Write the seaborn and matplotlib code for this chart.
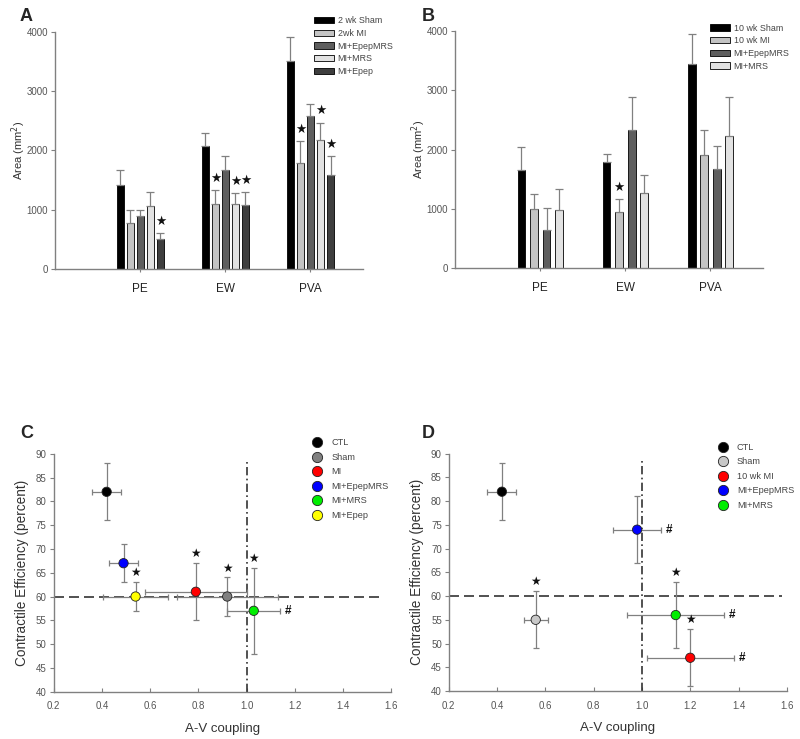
import numpy as np
import pandas as pd
import matplotlib
matplotlib.use("Agg")
import matplotlib.pyplot as plt
import seaborn as sns

# ---- data: panel A (2 wk) ----
measures = ["PE", "EW", "PVA"]
groups_a = ["2 wk Sham", "2wk MI", "MI+EpepMRS", "MI+MRS", "MI+Epep"]
area_a = {
    "2 wk Sham":  [1420, 2080, 3510],
    "2wk MI":     [780, 1095, 1790],
    "MI+EpepMRS": [890, 1675, 2575],
    "MI+MRS":     [1070, 1100, 2170],
    "MI+Epep":    [510, 1075, 1590],
}
err_a = {
    "2 wk Sham":  [245, 215, 400],
    "2wk MI":     [220, 230, 365],
    "MI+EpepMRS": [100, 225, 210],
    "MI+MRS":     [230, 180, 300],
    "MI+Epep":    [95, 225, 310],
}
stars_a = {"MI+Epep": ["PE", "EW", "PVA"], "2wk MI": ["EW", "PVA"], "MI+MRS": ["EW", "PVA"]}

# ---- data: panel B (10 wk) ----
groups_b = ["10 wk Sham", "10 wk MI", "MI+EpepMRS", "MI+MRS"]
area_b = {
    "10 wk Sham": [1665, 1785, 3445],
    "10 wk MI":   [995, 945, 1915],
    "MI+EpepMRS": [645, 2330, 1675],
    "MI+MRS":     [990, 1265, 2235],
}
err_b = {
    "10 wk Sham": [385, 150, 505],
    "10 wk MI":   [255, 220, 415],
    "MI+EpepMRS": [365, 550, 390],
    "MI+MRS":     [340, 315, 645],
}
stars_b = {"10 wk MI": ["EW"]}

# ---- data: panel C (2 wk scatter) ----
grp_c = ["CTL", "Sham", "MI", "MI+EpepMRS", "MI+MRS", "MI+Epep"]
av_c = [0.42, 0.92, 0.79, 0.49, 1.03, 0.54]
av_err_c = [0.06, 0.21, 0.21, 0.06, 0.11, 0.135]
ce_c = [82, 60, 61, 67, 57, 60]
ce_err_c = [6, 4, 6, 4, 9, 3]
star_c = ["Sham", "MI", "MI+MRS", "MI+Epep"]
hash_c = ["MI+MRS"]
col_c = ["#000000", "#808080", "#ff0000", "#0000ff", "#00ee00", "#ffff00"]

# ---- data: panel D (10 wk scatter) ----
grp_d = ["CTL", "Sham", "10 wk MI", "MI+EpepMRS", "MI+MRS"]
av_d = [0.42, 0.56, 1.20, 0.98, 1.14]
av_err_d = [0.06, 0.05, 0.18, 0.10, 0.20]
ce_d = [82, 55, 47, 74, 56]
ce_err_d = [6, 6, 6, 7, 7]
star_d = ["Sham", "10 wk MI", "MI+MRS"]
hash_d = ["10 wk MI", "MI+EpepMRS", "MI+MRS"]
col_d = ["#000000", "#c8c8c8", "#ff0000", "#0000ff", "#00ee00"]

sns.set_style("white")
plt.rcParams["font.family"] = ["Liberation Sans", "DejaVu Sans"]

GRAY = "#808080"
fig = plt.figure(figsize=(8, 7.39), dpi=100)


def style_axes(ax):
    sns.despine(ax=ax)
    for s in ["left", "bottom"]:
        ax.spines[s].set_color(GRAY)
        ax.spines[s].set_linewidth(1.0)
    ax.tick_params(axis="y", direction="out", length=3, color=GRAY, labelsize=7,
                   labelcolor="#555555", width=0.8, left=True, pad=2)


def bar_panel(rect, groups, area, err, stars, colors, gap, legend_xy):
    rows = []
    for g in groups:
        for m, v, e in zip(measures, area[g], err[g]):
            rows.append({"measure": m, "group": g, "area": v, "err": e})
    df = pd.DataFrame(rows)
    ax = fig.add_axes(rect)
    sns.barplot(data=df, x="measure", y="area", hue="group", hue_order=groups,
                palette=colors, width=0.59, gap=gap, errorbar=None,
                edgecolor="black", linewidth=0.6, ax=ax, legend=True)
    # error bars (upward only) and stars, from bar patches
    for cont, g in zip(ax.containers, groups):
        sub = df[df.group == g].set_index("measure").loc[measures]
        for patch, m in zip(cont.patches, measures):
            xc = patch.get_x() + patch.get_width() / 2
            top = patch.get_height()
            e = sub.loc[m, "err"]
            ax.errorbar(xc, top, yerr=[[0], [e]], fmt="none", ecolor=GRAY,
                        elinewidth=0.9, capsize=3, capthick=0.9, zorder=3)
            if m in stars.get(g, []):
                ax.text(xc, top + e + 200, "★", ha="center", va="center",
                        fontsize=9, family="DejaVu Sans", color="#111111")
    ax.set_xlim(-1.0, 2.62)
    ax.set_ylim(0, 4000)
    ax.set_yticks([0, 1000, 2000, 3000, 4000])
    ax.set_xlabel("")
    ax.set_ylabel("Area (mm$^2$)", fontsize=8, color="#333333", labelpad=-1)
    style_axes(ax)
    ax.tick_params(axis="x", length=2, color=GRAY, labelsize=8.5, labelcolor="#222222",
                   bottom=True, pad=8)
    h, l = ax.get_legend_handles_labels()
    ax.legend(h, l, loc="upper left", bbox_to_anchor=legend_xy,
              bbox_transform=fig.transFigure, frameon=False, fontsize=6.4,
              handlelength=2.3, handleheight=0.7, labelspacing=0.42,
              handletextpad=0.4, labelcolor="#444444")
    return ax


def scatter_panel(rect, grp, av, av_err, ce, ce_err, cols, stars, hashes, hline_end,
                  vline_top, legend_xy):
    df = pd.DataFrame({"group": grp, "av": av, "av_err": av_err, "ce": ce, "ce_err": ce_err})
    ax = fig.add_axes(rect)
    ax.set_xlim(0.2, 1.6)
    ax.set_ylim(40, 90)
    ax.plot([0.2, hline_end], [60, 60], color="#333333", lw=1.2, dashes=(6, 3), zorder=1)
    ax.plot([1.0, 1.0], [40, vline_top], color="#333333", lw=1.2, dashes=(5, 2, 1, 2),
            zorder=1)
    ax.errorbar(df.av, df.ce, xerr=df.av_err, yerr=df.ce_err, fmt="none", ecolor=GRAY,
                elinewidth=0.9, capsize=2.5, capthick=0.9, zorder=2)
    sns.scatterplot(data=df, x="av", y="ce", hue="group", hue_order=grp, palette=cols,
                    s=45, edgecolor="#222222", linewidth=0.6, zorder=3, ax=ax)
    for _, r in df.iterrows():
        if r.group in stars:
            ax.text(r.av, r.ce + r.ce_err + 2, "★", ha="center", va="center",
                    fontsize=8.5, family="DejaVu Sans", color="#111111")
        if r.group in hashes:
            ax.text(r.av + r.av_err + 0.02, r.ce, "#", ha="left", va="center",
                    fontsize=8.5, color="#111111", fontweight="bold")
    ax.set_xticks(np.arange(0.2, 1.61, 0.2))
    ax.set_xticklabels([f"{v:.1f}" for v in np.arange(0.2, 1.61, 0.2)])
    ax.set_yticks(range(40, 91, 5))
    ax.set_xlabel("A-V coupling", fontsize=9.5, color="#333333", labelpad=8)
    ax.set_ylabel("Contractile Efficiency (percent)", fontsize=9.8, color="#333333",
                  labelpad=5)
    style_axes(ax)
    ax.tick_params(axis="x", direction="in", length=3, color=GRAY, labelsize=7,
                   labelcolor="#555555", bottom=True, pad=7)
    h, l = ax.get_legend_handles_labels()
    ax.legend(h, l, loc="upper left", bbox_to_anchor=legend_xy,
              bbox_transform=fig.transFigure, frameon=False, fontsize=6.6,
              markerscale=1.1, labelspacing=0.6, handletextpad=0.5,
              labelcolor="#444444")
    return ax


bar_panel([0.069, 0.636, 0.385, 0.321], groups_a, area_a, err_a, stars_a,
          ["#000000", "#c4c4c4", "#5e5e5e", "#e2e2e2", "#3e3e3e"], 0.27, (0.382, 0.989))
bar_panel([0.569, 0.637, 0.385, 0.321], groups_b, area_b, err_b, stars_b,
          ["#000000", "#c4c4c4", "#5e5e5e", "#e2e2e2"], 0.38, (0.877, 0.979))
scatter_panel([0.067, 0.064, 0.422, 0.322], grp_c, av_c, av_err_c, ce_c, ce_err_c, col_c,
              star_c, hash_c, 1.55, 88.5, (0.375, 0.418))
scatter_panel([0.561, 0.065, 0.4225, 0.321], grp_d, av_d, av_err_d, ce_d, ce_err_d, col_d,
              star_d, hash_d, 1.58, 89, (0.882, 0.412))

for lbl, x, y in [("A", 0.025, 0.978), ("B", 0.527, 0.978), ("C", 0.025, 0.413), ("D", 0.527, 0.413)]:
    fig.text(x, y, lbl, fontsize=13, fontweight="bold", ha="left", va="center")

fig.savefig("out.png", dpi=100)
